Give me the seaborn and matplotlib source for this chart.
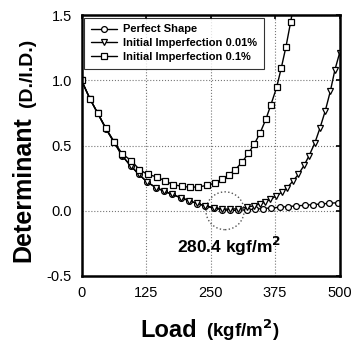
import matplotlib
matplotlib.use("Agg")
import matplotlib.pyplot as plt
import seaborn as sns
from matplotlib.patches import Ellipse

# values
perfect_load = [0, 16, 31, 47, 63, 79, 95, 111, 127, 144, 160, 176, 192, 208, 224, 240, 256, 272,
                288, 304, 320, 336, 352, 368, 384, 400, 416, 432, 448, 464, 480, 496]
perfect_det = [1.0, 0.86, 0.75, 0.63, 0.525, 0.42, 0.345, 0.28, 0.22, 0.178, 0.15, 0.125, 0.10,
               0.078, 0.055, 0.036, 0.02, 0.008, 0.002, 0.004, 0.008, 0.012, 0.017, 0.022, 0.027,
               0.032, 0.037, 0.042, 0.047, 0.052, 0.057, 0.062]

imp001_load = [0, 16, 31, 47, 63, 79, 95, 111, 127, 144, 160, 176, 192, 208, 224, 240, 256, 272,
               288, 304, 320, 335, 346, 356, 366, 377, 388, 398, 409, 420, 431, 441, 452, 462,
               472, 482, 491, 500]
imp001_det = [1.0, 0.86, 0.75, 0.63, 0.525, 0.42, 0.345, 0.28, 0.22, 0.178, 0.15, 0.125, 0.10,
              0.078, 0.056, 0.038, 0.024, 0.014, 0.012, 0.016, 0.026, 0.04, 0.052, 0.068, 0.088,
              0.112, 0.143, 0.175, 0.225, 0.278, 0.347, 0.423, 0.52, 0.635, 0.763, 0.916, 1.082,
              1.21]

imp01_load = [0, 16, 31, 47, 63, 79, 96, 112, 128, 146, 162, 178, 194, 210, 226, 243, 259, 272,
              285, 298, 311, 323, 335, 346, 357, 367, 378, 387, 396, 405, 412]
imp01_det = [1.0, 0.86, 0.75, 0.635, 0.53, 0.435, 0.385, 0.316, 0.278, 0.26, 0.227, 0.20, 0.188,
             0.18, 0.183, 0.194, 0.214, 0.24, 0.273, 0.316, 0.372, 0.439, 0.513, 0.597, 0.70,
             0.814, 0.946, 1.095, 1.256, 1.444, 1.6]

x_ticks = [0, 125, 250, 375, 500]
y_ticks = [-0.5, 0.0, 0.5, 1.0, 1.5]

sns.set_style("white")
plt.rcParams['font.family'] = ['Liberation Sans', 'DejaVu Sans']
plt.rcParams['text.color'] = 'black'
plt.rcParams['axes.labelcolor'] = 'black'

fig = plt.figure(figsize=(3.56, 3.42), dpi=100)
ax = fig.add_axes([0.229, 0.193, 0.725, 0.763])

common = dict(color="black", linewidth=1.0, markersize=4.2, markeredgewidth=0.9)
sns.lineplot(x=perfect_load, y=perfect_det, ax=ax, marker="o", markerfacecolor="white",
             markeredgecolor="black", label="Perfect Shape", **common)
sns.lineplot(x=imp001_load, y=imp001_det, ax=ax, marker="v", markerfacecolor="white",
             markeredgecolor="black", label="Initial Imperfection 0.01%", **common)
sns.lineplot(x=imp01_load, y=imp01_det, ax=ax, marker="s", markerfacecolor="white",
             markeredgecolor="black", label="Initial Imperfection 0.1%", **common)

ax.set_xlim(0, 500)
ax.set_ylim(-0.5, 1.5)
ax.set_xticks(x_ticks)
ax.set_yticks(y_ticks)
ax.set_xticklabels([str(t) for t in x_ticks])
ax.set_yticklabels(["%.1f" % t for t in y_ticks])
ax.grid(True, linestyle=":", color="#777777", linewidth=0.8)
ax.tick_params(direction="in", top=True, right=True, length=3, width=1.2, labelsize=10.5,
               colors="black", pad=7)
for s in ax.spines.values():
    s.set_visible(True)
    s.set_linewidth(1.8)
    s.set_color("black")

# circled critical point
ax.add_patch(Ellipse((278, 0.0), 74, 0.29, fill=False, linestyle=":", edgecolor="#555555",
                     linewidth=1.0))
ax.text(286, -0.27, "280.4 kgf/m$^\\mathbf{2}$", ha="center", va="center", fontsize=12.5,
        fontweight="bold", color="black")

leg = ax.legend(loc="upper left", frameon=True, fancybox=False, handlelength=2.3,
                borderaxespad=0.25, labelspacing=0.35, borderpad=0.6, handletextpad=0.6,
                prop={"weight": "bold", "size": 8})
leg.get_frame().set_edgecolor("black")
leg.get_frame().set_linewidth(0.8)
for t in leg.get_texts():
    t.set_color("black")

# axis labels with the unit in a smaller font
ax.set_xlabel("")
ax.set_ylabel("")
fig.text(0.553, 0.0146, "Load", ha="right", va="baseline", fontsize=17, fontweight="heavy")
fig.text(0.579, 0.0146, "(kgf/m$^\\mathbf{2}$)", ha="left", va="baseline", fontsize=13.5,
         fontweight="bold")
fig.text(0.065, 0.234, "Determinant", ha="center", va="bottom", rotation=90, fontsize=18,
         fontweight="heavy")
fig.text(0.077, 0.688, "(D./I.D.)", ha="center", va="bottom", rotation=90, fontsize=14,
         fontweight="bold")

fig.savefig("out.png", dpi=100)
